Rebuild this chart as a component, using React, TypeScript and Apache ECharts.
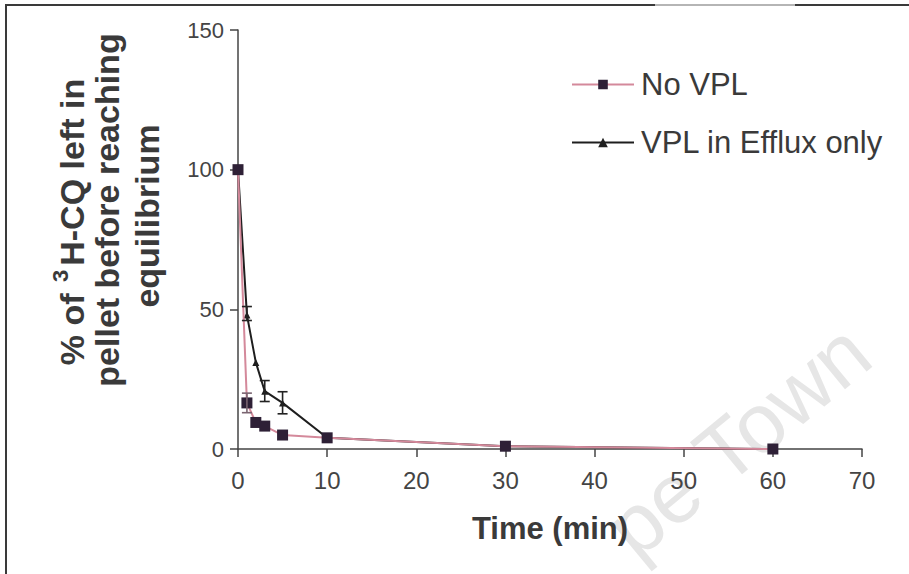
import React, { useEffect, useRef } from "react";
import * as echarts from "echarts";

// ---- data ----
const timeMin = [0, 1, 2, 3, 5, 10, 30, 60];
const noVpl = [100, 16.5, 9.5, 8.2, 5, 4, 1, 0];
const vplEfflux = [100, 48, 31, 20.7, 16.5, 4, 1, 0];

const noVplErrTime = [1];
const noVplErrLow = [13];
const noVplErrHigh = [20];

const vplErrTime = [1, 3, 5];
const vplErrLow = [46, 17, 12.6];
const vplErrHigh = [51, 24.5, 20.5];

const xMin = 0;
const xMax = 70;
const xStep = 10;
const yMin = 0;
const yMax = 150;
const yStep = 50;

const seriesNames = ["No VPL", "VPL in Efflux only"];
const xAxisTitle = "Time (min)";
const yTitleLine1 = ["% of ", "3", "H-CQ left in"];
const yTitleLine2 = "pellet before reaching";
const yTitleLine3 = "equilibrium";
const watermark = "pe Town";

const FONT = "'Liberation Sans', Arial, Helvetica, sans-serif";

function errRender(color: string) {
  return (params: any, api: any) => {
    const x = api.value(0);
    const lo = api.coord([x, api.value(1)]);
    const hi = api.coord([x, api.value(2)]);
    const w = 5;
    const st = { stroke: color, lineWidth: 1.6 };
    return {
      type: "group",
      children: [
        { type: "line", shape: { x1: lo[0], y1: lo[1], x2: hi[0], y2: hi[1] }, style: st },
        { type: "line", shape: { x1: hi[0] - w, y1: hi[1], x2: hi[0] + w, y2: hi[1] }, style: st },
        { type: "line", shape: { x1: lo[0] - w, y1: lo[1], x2: lo[0] + w, y2: lo[1] }, style: st },
      ],
    };
  };
}

export default function App() {
  const ref = useRef<HTMLDivElement>(null);
  useEffect(() => {
    if (!ref.current) return;
    const chart = echarts.init(ref.current, null, { renderer: "svg" });
    const yNameX = [69, 107, 147];
    const yNameY = 210;
    const titleColor = "#3a3a3a";
    const option: any = {
      animation: false,
      backgroundColor: "#ffffff",
      grid: { left: 238, right: 47, top: 30, bottom: 125, containLabel: false },
      legend: {
        orient: "vertical",
        left: 566,
        top: 64,
        itemWidth: 62,
        itemHeight: 12,
        itemGap: 27,
        data: seriesNames,
        textStyle: { fontSize: 31, color: "#3a3a3a", fontFamily: FONT, padding: [0, 0, 0, 2] },
      },
      xAxis: {
        type: "value",
        min: xMin,
        max: xMax,
        interval: xStep,
        name: xAxisTitle,
        nameLocation: "middle",
        nameGap: 64,
        nameTextStyle: { fontSize: 31, fontWeight: "bold", color: titleColor, fontFamily: FONT },
        axisLine: { show: true, lineStyle: { color: "#444", width: 1.5 } },
        axisTick: { show: true, length: 8, lineStyle: { color: "#444", width: 1.5 } },
        axisLabel: { fontSize: 24, color: "#444", fontFamily: FONT, margin: 19 },
        splitLine: { show: false },
      },
      yAxis: {
        type: "value",
        min: yMin,
        max: yMax,
        interval: yStep,
        axisLine: { show: true, lineStyle: { color: "#444", width: 1.5 } },
        axisTick: { show: true, length: 8, lineStyle: { color: "#444", width: 1.5 } },
        axisLabel: { fontSize: 22, color: "#444", fontFamily: FONT, margin: 14 },
        splitLine: { show: false },
      },
      graphic: [
        {
          type: "text",
          x: 738,
          y: 440,
          rotation: (39.5 * Math.PI) / 180,
          z: -10,
          silent: true,
          style: {
            text: watermark,
            fontSize: 84,
            fontFamily: FONT,
            fill: "#e6e6e6",
            align: "center",
            verticalAlign: "middle",
          },
        },
        { type: "line", shape: { x1: 5, y1: 5, x2: 655, y2: 5 }, style: { stroke: "#3a3a3a", lineWidth: 2 } },
        { type: "line", shape: { x1: 655, y1: 5, x2: 795, y2: 5 }, style: { stroke: "#b5b5b5", lineWidth: 2 } },
        { type: "line", shape: { x1: 795, y1: 5, x2: 909, y2: 5 }, style: { stroke: "#3a3a3a", lineWidth: 2 } },
        { type: "line", shape: { x1: 6, y1: 5, x2: 6, y2: 574 }, style: { stroke: "#3a3a3a", lineWidth: 2 } },
        {
          type: "text",
          x: yNameX[0],
          y: yNameY + 12,
          rotation: Math.PI / 2,
          style: {
            text: `{m|${yTitleLine1[0]}}{s|${yTitleLine1[1]}}{m|${yTitleLine1[2]}}`,
            align: "center",
            verticalAlign: "middle",
            fill: titleColor,
            rich: {
              m: { fontSize: 34, fontWeight: "bold", fontFamily: FONT, fill: titleColor, lineHeight: 40, verticalAlign: "bottom" },
              s: { fontSize: 22, fontWeight: "bold", fontFamily: FONT, fill: titleColor, lineHeight: 40, verticalAlign: "top", padding: [0, 4, 0, 2] },
            },
          },
        },
        {
          type: "text",
          x: yNameX[1],
          y: yNameY,
          rotation: Math.PI / 2,
          style: {
            text: yTitleLine2,
            align: "center",
            verticalAlign: "middle",
            fontSize: 34,
            fontWeight: "bold",
            fontFamily: FONT,
            fill: titleColor,
          },
        },
        {
          type: "text",
          x: yNameX[2],
          y: yNameY + 6,
          rotation: Math.PI / 2,
          style: {
            text: yTitleLine3,
            align: "center",
            verticalAlign: "middle",
            fontSize: 34,
            fontWeight: "bold",
            fontFamily: FONT,
            fill: titleColor,
          },
        },
      ],
      series: [
        {
          name: seriesNames[1],
          type: "line",
          data: timeMin.map((t, i) => [t, vplEfflux[i]]),
          symbol: "triangle",
          symbolSize: 7,
          lineStyle: { color: "#1e1e1e", width: 2 },
          itemStyle: { color: "#1e1e1e" },
          z: 3,
        },
        {
          name: seriesNames[0],
          type: "line",
          data: timeMin.map((t, i) => [t, noVpl[i]]),
          symbol: "rect",
          symbolSize: 11,
          lineStyle: { color: "#d4899b", width: 2 },
          itemStyle: { color: "#2e2036" },
          z: 4,
        },
        {
          name: "err-novpl",
          type: "custom",
          renderItem: errRender("#7a6470"),
          data: noVplErrTime.map((t, i) => [t, noVplErrLow[i], noVplErrHigh[i]]),
          z: 5,
        },
        {
          name: "err-vpl",
          type: "custom",
          renderItem: errRender("#222"),
          data: vplErrTime.map((t, i) => [t, vplErrLow[i], vplErrHigh[i]]),
          z: 5,
        },
      ],
    };
    chart.setOption(option);
    return () => chart.dispose();
  }, []);
  return (
    <div
      ref={ref}
      style={{ position: "fixed", left: 0, top: 0, width: 909, height: 574, background: "#fff" }}
    />
  );
}
